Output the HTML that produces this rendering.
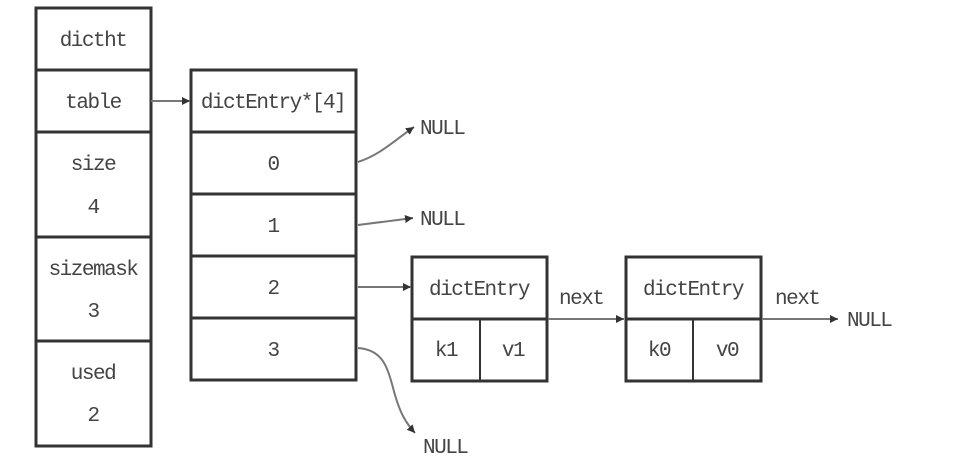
<!DOCTYPE html>
<html><head><style>
body{margin:0;background:#fff;width:971px;height:462px;overflow:hidden}
svg text{font-family:"Liberation Mono",monospace;font-size:21px;letter-spacing:-1.5px;fill:#444}
</style></head><body>
<svg width="971" height="462" viewBox="0 0 971 462">
<defs><marker id="a" viewBox="0 0 10 10" refX="10" refY="5" markerWidth="8" markerHeight="8" orient="auto" markerUnits="userSpaceOnUse"><path d="M0,0L10,5L0,10z" fill="#333"/></marker></defs>
<g fill="none" stroke="#333" stroke-width="3">
<rect x="36" y="8" width="115" height="438"/>
<line x1="36" y1="70" x2="151" y2="70"/><line x1="36" y1="132" x2="151" y2="132"/>
<line x1="36" y1="237" x2="151" y2="237"/><line x1="36" y1="341" x2="151" y2="341"/>
<rect x="191" y="70" width="165" height="310"/>
<line x1="191" y1="132" x2="356" y2="132"/><line x1="191" y1="194" x2="356" y2="194"/>
<line x1="191" y1="256" x2="356" y2="256"/><line x1="191" y1="318" x2="356" y2="318"/>
<rect x="412" y="257" width="135" height="124"/><line x1="412" y1="319" x2="547" y2="319"/><line x1="480" y1="319" x2="480" y2="381" stroke-width="2"/>
<rect x="626" y="257" width="135" height="124"/><line x1="626" y1="319" x2="761" y2="319"/><line x1="693" y1="319" x2="693" y2="381" stroke-width="2"/>
</g>
<g fill="none" stroke="#777" stroke-width="2" marker-end="url(#a)">
<line x1="151" y1="101" x2="190" y2="101"/>
<path d="M358,162 C380,155 395,140 414,127"/>
<line x1="358" y1="225" x2="413" y2="218"/>
<line x1="358" y1="287" x2="411" y2="287"/>
<path d="M358,348 C385,350 388,370 395,395 C400,412 405,422 415,433"/>
<line x1="548" y1="319" x2="624" y2="319"/>
<line x1="762" y1="319" x2="838" y2="319"/>
</g>
<g text-anchor="middle">
<text x="93" y="46">dictht</text><text x="93" y="108">table</text>
<text x="93" y="170">size</text><text x="93" y="213">4</text>
<text x="93" y="275">sizemask</text><text x="93" y="317">3</text>
<text x="93" y="379">used</text><text x="93" y="421">2</text>
<text x="273" y="108">dictEntry*[4]</text>
<text x="273" y="170">0</text><text x="273" y="232">1</text><text x="273" y="294">2</text><text x="273" y="356">3</text>
<text x="479" y="295">dictEntry</text><text x="446" y="356">k1</text><text x="513" y="356">v1</text>
<text x="693" y="295">dictEntry</text><text x="659" y="356">k0</text><text x="727" y="356">v0</text>
</g>
<text x="559" y="304">next</text><text x="775" y="304">next</text>
<text x="420" y="134">NULL</text><text x="420" y="225">NULL</text><text x="847" y="326">NULL</text><text x="423" y="453">NULL</text>
</svg>
</body></html>
